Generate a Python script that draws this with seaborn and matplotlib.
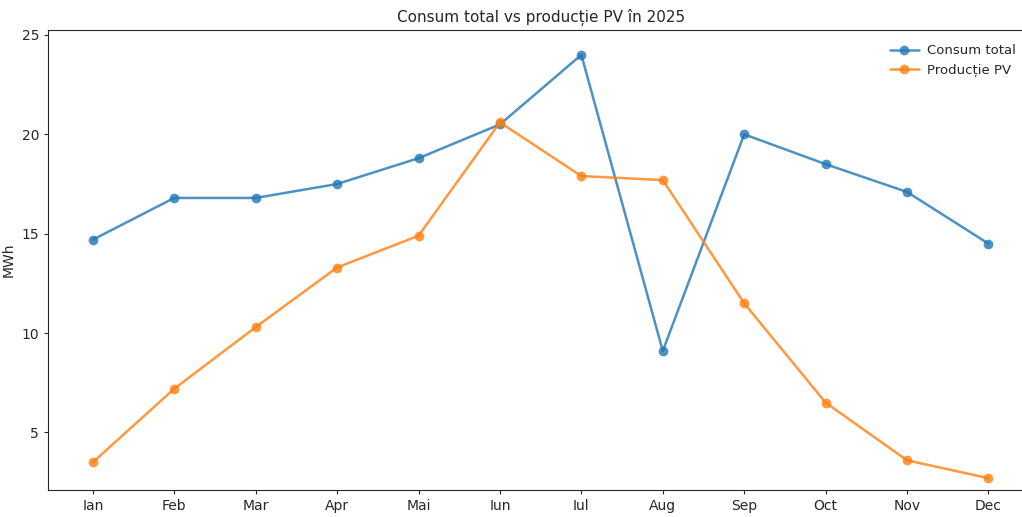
import pandas as pd
import matplotlib.pyplot as plt
import seaborn as sns

luni = ['Ian', 'Feb', 'Mar', 'Apr', 'Mai', 'Iun', 'Iul', 'Aug', 'Sep', 'Oct', 'Nov', 'Dec']
consum_total = [14.7, 16.8, 16.8, 17.5, 18.8, 20.5, 24.0, 9.1, 20.0, 18.5, 17.1, 14.5]
productie_pv = [3.5, 7.2, 10.3, 13.3, 14.9, 20.6, 17.9, 17.7, 11.5, 6.5, 3.6, 2.7]

df = pd.DataFrame({
    'Luna': luni * 2,
    'MWh': consum_total + productie_pv,
    'Serie': ['Consum total'] * 12 + ['Producție PV'] * 12,
})

sns.set_style('ticks')
plt.rcParams['font.family'] = ['DejaVu Sans']

fig = plt.figure(figsize=(10.22, 5.17), dpi=100)
ax = fig.add_axes([0.047, 0.052, 0.964, 0.89])

sns.lineplot(data=df, x='Luna', y='MWh', hue='Serie', marker='o',
             palette=['#1f77b4', '#ff7f0e'], alpha=0.8, linewidth=1.8,
             markersize=7, markeredgewidth=0, sort=False, ax=ax)

ax.set_title('Consum total vs producție PV în 2025', fontsize=11)
ax.set_xlabel('')
ax.set_ylabel('MWh')
ax.set_ylim(2.1, 25.25)
ax.spines['right'].set_visible(False)
ax.tick_params(length=3)
ax.legend(title=None, loc='upper right', bbox_to_anchor=(0.994, 0.995),
          frameon=False, fontsize=9.5, handlelength=2.2, handletextpad=0.6)

fig.savefig('out.png', dpi=100)
